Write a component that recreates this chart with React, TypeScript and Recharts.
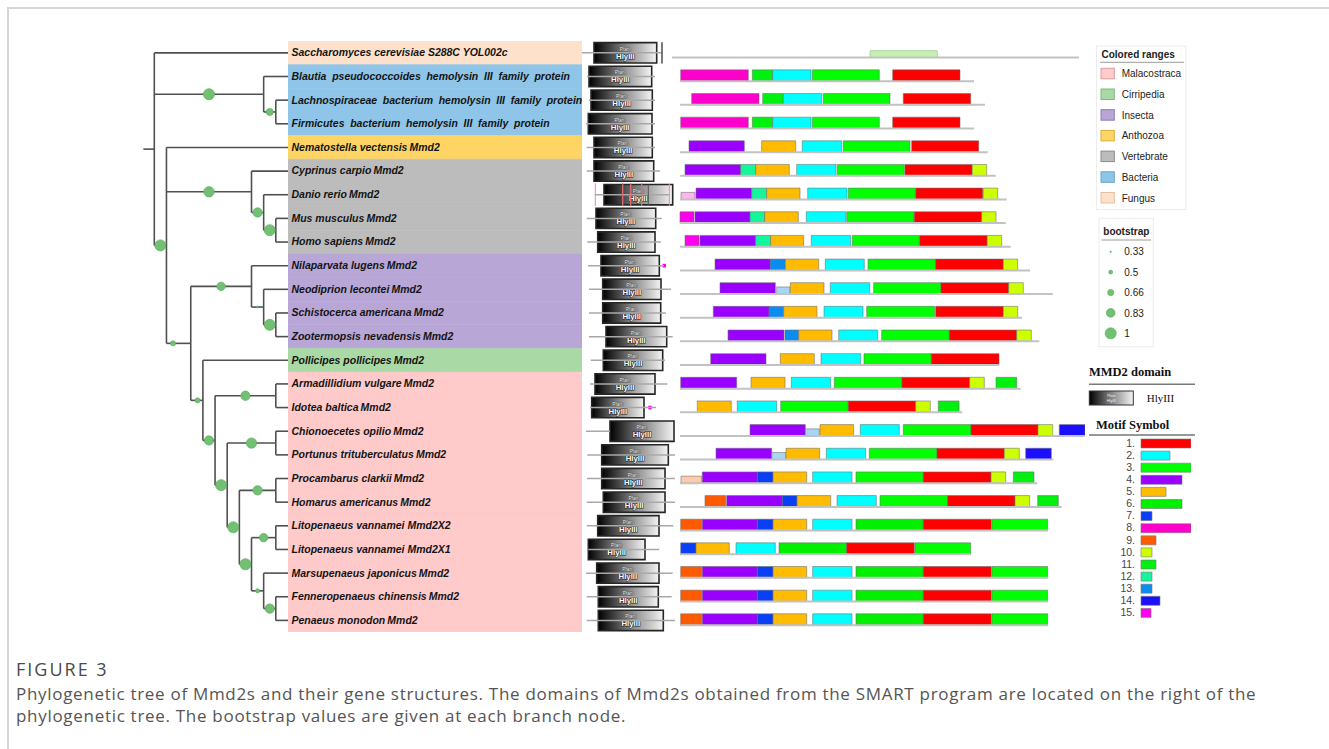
import React from 'react';
import { ComposedChart, BarChart, Bar, Cell, XAxis, YAxis, Scatter, ReferenceLine, ReferenceArea } from 'recharts';

// ---------- layout constants ----------
const ROW_TOP = 41;
const ROW_H = 23.65;
const N_ROWS = 25;
const CH_H = ROW_H * N_ROWS;
const Y_DOMAIN: [number, number] = [-0.5, N_ROWS - 0.5];
const M0 = { top: 0, right: 0, bottom: 0, left: 0 };

// ---------- data ----------
const speciesLabels = [
  'Saccharomyces cerevisiae S288C YOL002c',
  'Blautia pseudococcoides hemolysin III family protein',
  'Lachnospiraceae bacterium hemolysin III family protein',
  'Firmicutes bacterium hemolysin III family protein',
  'Nematostella vectensis\u2009Mmd2',
  'Cyprinus carpio\u2009Mmd2',
  'Danio rerio\u2009Mmd2',
  'Mus musculus\u2009Mmd2',
  'Homo sapiens\u2009Mmd2',
  'Nilaparvata lugens\u2009Mmd2',
  'Neodiprion lecontei\u2009Mmd2',
  'Schistocerca americana\u2009Mmd2',
  'Zootermopsis nevadensis\u2009Mmd2',
  'Pollicipes pollicipes\u2009Mmd2',
  'Armadillidium vulgare\u2009Mmd2',
  'Idotea baltica\u2009Mmd2',
  'Chionoecetes opilio\u2009Mmd2',
  'Portunus trituberculatus\u2009Mmd2',
  'Procambarus clarkii\u2009Mmd2',
  'Homarus americanus\u2009Mmd2',
  'Litopenaeus vannamei Mmd2X2',
  'Litopenaeus vannamei Mmd2X1',
  'Marsupenaeus japonicus\u2009Mmd2',
  'Fenneropenaeus chinensis\u2009Mmd2',
  'Penaeus monodon\u2009Mmd2',
];
const speciesGroup = [6, 5, 5, 5, 3, 4, 4, 4, 4, 2, 2, 2, 2, 1, 0, 0, 0, 0, 0, 0, 0, 0, 0, 0, 0];
const groupNames = ['Malacostraca', 'Cirripedia', 'Insecta', 'Anthozoa', 'Vertebrate', 'Bacteria', 'Fungus'];
const groupFill = ['#ffcaca', '#a9d9a5', '#b8a6d7', '#fed565', '#bcbcbc', '#8ec5e8', '#fde1cb'];
const groupEdge = ['#dc9c9c', '#7dbb79', '#8f7cbb', '#d9ad3e', '#8a8a8a', '#68a4cb', '#e3c0a4'];

// tree: [id, depth level, children (row index or node id), bootstrap, circle position along branch]
const treeNodes: [string, number, (string | number)[], number, number][] = [
  ['root', 0, [0, 'bac', 'euk'], 0, 0],
  ['bac', 9, [1, 'lf'], 1.0, 0.5],
  ['lf', 10, [2, 3], 0.72, 0.5],
  ['euk', 1, [4, 'vert', 'rest'], 1.0, 0.5],
  ['vert', 8, [5, 'dmh'], 0.95, 0.5],
  ['dmh', 9, [6, 'mh'], 0.88, 0.5],
  ['mh', 10, [7, 8], 1.0, 0.5],
  ['rest', 3, ['ins', 'crus'], 0.58, 0.27],
  ['ins', 8, [9, 'ins2'], 0.82, 0.5],
  ['ins2', 9, [10, 'sz'], 0.36, 0.5],
  ['sz', 10, [11, 12], 1.0, 0.5],
  ['crus', 4, [13, 'mal'], 0.58, 0.56],
  ['mal', 5, ['ai', 'mal2'], 0.88, 0.5],
  ['ai', 10, [14, 15], 0.88, 0.5],
  ['mal2', 6, ['cp', 'mal3'], 1.0, 0.5],
  ['cp', 10, [16, 17], 0.95, 0.5],
  ['mal3', 7, ['ph', 'mal4'], 1.0, 0.5],
  ['ph', 10, [18, 19], 0.88, 0.5],
  ['mal4', 8, ['lv', 'pen'], 1.0, 0.5],
  ['lv', 10, [20, 21], 0.82, 0.5],
  ['pen', 9, [22, 'fp'], 0.52, 0.5],
  ['fp', 10, [23, 24], 0.88, 0.5],
];
const LEAF_LEVEL = 11;
const ROOT_STUB = -0.9;

// HlyIII domain (sequence positions)
const domLineStart = [2, 7, 9, 6, 6.7, 6.7, 15, 6.7, 7.3, 8, 9, 9, 9, 10.7, 10, 10, 6, 7.3, 7, 6.7, 6.7, 8.3, 6, 6.7, 6.7];
const domLineEnd = [82, 75, 75, 75, 75, 80, 89, 81.7, 81, 84, 91, 86, 92.7, 85, 87.3, 76, 30, 95, 95, 95, 93.3, 79.3, 92.7, 91.7, 95];
const domBoxStart = [14, 9, 11, 8.3, 14, 14, 24, 16, 17.7, 21, 22.7, 22.7, 26, 23.3, 15, 11.7, 30, 21.7, 21.7, 23.3, 17.7, 8.3, 16.7, 18.3, 18.3];
const domBoxEnd = [76.7, 71.7, 72.3, 72, 72.3, 73.7, 92.7, 75.7, 75, 79.3, 81, 80.7, 86.7, 82.7, 75, 64, 94, 88.3, 85, 85, 79, 65, 79, 78.3, 83.3];
const domEndBars: [number, number][] = [[0, 82]];
const domRedMarks: [number, number][] = [[6, 15.3], [6, 42.7], [6, 50.7], [6, 61.7], [6, 89.3]];
const domInnerMarks: [number, number][] = [[6, 68.3]];
const domDots: [number, number][] = [[9, 84.3], [15, 70]];

// motifs: [motif, start, end]
const LITO: [string, number, number][] = [['9', 0.7, 21.7], ['4', 22.3, 77.3], ['7', 77.3, 93], ['5', 93, 126.7], ['2', 132.7, 172], ['6', 176, 243.3], ['1', 243.3, 311.3], ['3', 312, 367.7]];
const BAC1: [string, number, number][] = [['8', 0.7, 68.3], ['11', 72.3, 92.7], ['2', 92.7, 131], ['3', 132.3, 199.3], ['1', 212.7, 280]];
const motifRows: [string, number, number][][] = [
  [['lg', 190, 257.3]],
  BAC1,
  [['8', 11.7, 79], ['11', 82.7, 103.3], ['2', 103.3, 141.7], ['3', 143.3, 210], ['1', 223.3, 290.7]],
  BAC1,
  [['4', 9, 64.3], ['5', 81.7, 115.7], ['2', 122.3, 161.7], ['3', 163.3, 230], ['1', 231.7, 298.7]],
  [['4', 5, 60.7], ['12', 60.7, 75.7], ['5', 75.7, 109.3], ['2', 116.7, 156], ['3', 157.3, 224.3], ['1', 225, 292], ['10', 292.3, 306.7]],
  [['lp', 1, 15], ['4', 16, 71.7], ['12', 71.7, 86.7], ['5', 86.7, 120], ['2', 127.7, 167], ['3', 168.3, 235.3], ['1', 235.7, 302.7], ['10', 303.3, 317.7]],
  [['15', 0, 14], ['4', 15, 70], ['12', 70, 84.7], ['5', 84.7, 118.3], ['2', 126.3, 165.7], ['3', 166.7, 234], ['1', 234.3, 301.7], ['10', 301.7, 316]],
  [['15', 5, 19], ['4', 20, 75.7], ['12', 75.7, 90.7], ['5', 90.7, 123.7], ['2', 131.3, 170.7], ['3', 172.3, 239.3], ['1', 239.7, 307], ['10', 307.3, 321.7]],
  [['4', 35, 90.3], ['13', 90.3, 105.3], ['5', 105.3, 138.7], ['2', 145.3, 184.3], ['3', 188, 255.7], ['1', 255.7, 323.3], ['10', 323.3, 337.7]],
  [['4', 40, 95.3], ['lb', 96.7, 110], ['5', 110.3, 144], ['2', 150.3, 189.7], ['3', 193.7, 261], ['1', 261, 328.7], ['10', 328.7, 343.3]],
  [['4', 33.3, 89], ['13', 89, 103.7], ['5', 103.7, 137], ['2', 144, 183], ['3', 186.7, 254.7], ['1', 255.7, 323.3], ['10', 323.3, 337.7]],
  [['4', 48, 104], ['13', 105, 118.7], ['5', 118.7, 152], ['2', 158.7, 197.7], ['3', 201.7, 269.3], ['1', 269.3, 336.7], ['10', 336.7, 351.3]],
  [['4', 30.7, 86], ['5', 100.3, 134.3], ['2', 141, 180.7], ['3', 184, 251.3], ['1', 251.3, 319]],
  [['4', 0.7, 56.7], ['5', 71, 105], ['2', 111.3, 150.7], ['3', 154.3, 222], ['1', 222, 289.7], ['10', 289.7, 304.3], ['11', 316, 336.7]],
  [['5', 17.3, 51.3], ['2', 57.3, 96.7], ['3', 100.7, 168.3], ['1', 168.3, 235.7], ['10', 235.7, 250.3], ['11', 258.3, 279]],
  [['4', 70, 125.3], ['lb', 125.3, 139.3], ['5', 140, 173.7], ['2', 180.3, 219.3], ['3', 223.3, 291], ['1', 291, 358], ['10', 358, 372.7], ['14', 379.3, 405]],
  [['4', 36, 91.7], ['lb', 91.7, 106], ['5', 106, 139.7], ['2', 146.3, 185.7], ['3', 189.3, 257], ['1', 257, 324.3], ['10', 324.3, 339.3], ['14', 345.7, 371.3]],
  [['pe', 1, 21.7], ['4', 22.3, 77.3], ['7', 77.3, 93], ['5', 93, 126.7], ['2', 132.7, 172], ['3', 176, 243.3], ['1', 243.3, 311], ['10', 311, 325.7], ['11', 333.3, 354]],
  [['9', 25, 45.7], ['4', 46.7, 102.3], ['7', 102.3, 117], ['5', 117, 150.7], ['2', 157, 196.3], ['3', 200, 267.7], ['1', 267.7, 335], ['10', 335, 349.7], ['11', 357.7, 378.3]],
  LITO,
  [['7', 0.7, 16], ['5', 16, 49.3], ['2', 56, 95.3], ['6', 99, 166.7], ['1', 166.7, 234.3], ['3', 235, 290.7]],
  LITO,
  LITO,
  LITO,
];
const motifLineStart = [-8, 0, 0, 0, 0, 0, 0, 0, 0, 0, 0, 0, 0, 0, 0, 0, 0, 0, 0, 0, 0, 0, 0, 0, 0];
const motifLineEnd = [399, 294, 305, 294, 307.7, 315.7, 326.7, 325.7, 330.7, 350, 372.7, 342, 359.3, 319, 340.7, 282.3, 405, 373.3, 357.3, 381.7, 367.7, 290.7, 367.7, 367.7, 367.7];

const motifIds = ['1', '2', '3', '4', '5', '6', '7', '8', '9', '10', '11', '12', '13', '14', '15'];
const motifLengths = [50, 29, 50, 41, 25, 41, 11, 50, 15, 11, 15, 11, 11, 19, 10];
const motifColors: Record<string, string> = {
  '1': '#ff0000', '2': '#00ffff', '3': '#00ff00', '4': '#9900ff', '5': '#ffbb00',
  '6': '#00f000', '7': '#0a40f5', '8': '#ff00cc', '9': '#ff5a00', '10': '#ccff00',
  '11': '#00f010', '12': '#14f59c', '13': '#0a8cf0', '14': '#1a10ff', '15': '#ff00ee',
  lg: '#c6f0b2', lp: '#ffb4f0', lb: '#a8d4f8', pe: '#ffcba8',
};

const bootstrapLegend = [0.33, 0.5, 0.66, 0.83, 1];

// ---------- derived ----------
const nodeMap: Record<string, { level: number; kids: (string | number)[]; bs: number; pos: number }> = {};
treeNodes.forEach(([id, level, kids, bs, pos]) => { nodeMap[id] = { level, kids, bs, pos }; });
const yOf = (k: string | number): number => {
  if (typeof k === 'number') return k;
  const n = nodeMap[k];
  return (yOf(n.kids[0]) + yOf(n.kids[n.kids.length - 1])) / 2;
};
const levelOf = (k: string | number) => (typeof k === 'number' ? LEAF_LEVEL : nodeMap[k].level);

type Seg = { x1: number; y1: number; x2: number; y2: number };
const treeSegs: Seg[] = [];
const bootstrapPts: { x: number; y: number; v: number }[] = [];
treeNodes.forEach(([id, level, kids]) => {
  const ys = kids.map(yOf);
  treeSegs.push({ x1: level, y1: Math.min(...ys), x2: level, y2: Math.max(...ys) });
  kids.forEach((k) => {
    const ky = yOf(k);
    treeSegs.push({ x1: level, y1: ky, x2: levelOf(k), y2: ky });
    if (typeof k === 'string') {
      const n = nodeMap[k];
      bootstrapPts.push({ x: level + (n.level - level) * n.pos, y: ky, v: n.bs });
    }
  });
});
const rootY = yOf('root');
treeSegs.push({ x1: ROOT_STUB, y1: rootY, x2: 0, y2: rootY });

const rowPts = speciesLabels.map((_, i) => ({ x: 0, y: i }));
const motifLegend = motifIds.map((id, i) => ({ label: id + '.', len: motifLengths[i], color: motifColors[id] }));

const bsRadius = (v: number) => 0.7 + (v - 0.33) * 7.2;

// ---------- small components ----------
const SpeciesLabel = (props: any) => {
  const vb = props.viewBox || { x: 0, y: 0, width: 0, height: 0 };
  return (
    <text x={vb.x + 3.5} y={vb.y + vb.height / 2 + 3.4} fontSize={10.5} fontWeight={700} fontStyle="italic"
      wordSpacing={props.wide ? 2.8 : 0}
      fontFamily="'Liberation Sans', Arial, sans-serif" fill="#141414">
      {props.name}
    </text>
  );
};

const DomainText = (props: any) => {
  const vb = props.viewBox || { x: 0, y: 0, width: 0, height: 0 };
  const cx = vb.x + vb.width / 2;
  const cy = vb.y + vb.height / 2;
  return (
    <g>
      <text x={cx} y={cy - 2} textAnchor="middle" fontSize={4.8} fill="#ffffff" stroke="#333" strokeWidth={0.6}
        paintOrder="stroke" fontFamily="'Liberation Sans', Arial">Pfam</text>
      <text x={cx} y={cy + 6} textAnchor="middle" fontSize={7.8} fontWeight={700} fill="#ffffff" stroke="#222" strokeWidth={1.1}
        paintOrder="stroke" fontFamily="'Liberation Sans', Arial">HlyIII</text>
    </g>
  );
};

const BsDot = (props: any) => (
  <circle cx={props.cx} cy={props.cy} r={bsRadius(props.payload.v)} fill="#72c173" stroke="#5caa5d" strokeWidth={0.7} />
);
const NoDot = () => <g />;

const chartBox = (left: number, width: number): React.CSSProperties => ({ position: 'absolute', left, top: ROW_TOP, width, height: CH_H });

const captionStyle: React.CSSProperties = {
  position: 'absolute', left: 16, fontFamily: "'Open Sans', sans-serif", fontSize: 17, color: '#555',
  lineHeight: '22px', whiteSpace: 'nowrap', letterSpacing: 0.7,
};

// ---------- main ----------
export default function App() {
  const sansFont = "'Liberation Sans', Arial, sans-serif";
  const serifFont = "'Liberation Serif', 'Times New Roman', serif";
  return (
    <div style={{ position: 'absolute', left: 0, top: 0, width: 1329, height: 749, background: '#fff', overflow: 'hidden' }}>
      <svg width={0} height={0} style={{ position: 'absolute' }}>
        <defs>
          <linearGradient id="hlyGrad" x1="0" x2="1" y1="0" y2="0">
            <stop offset="0%" stopColor="#000" />
            <stop offset="45%" stopColor="#777" />
            <stop offset="100%" stopColor="#f4f4f4" />
          </linearGradient>
        </defs>
      </svg>
      {/* frame */}
      <div style={{ position: 'absolute', left: 7, top: 7, width: 1340, height: 760, borderTop: '2px solid #d6d6d6', borderLeft: '2px solid #d6d6d6' }} />

      {/* tree */}
      <div style={chartBox(129.7, 160.4)}>
        <ComposedChart width={160.4} height={CH_H} margin={M0}>
          <XAxis type="number" dataKey="x" domain={[-2, 11.2]} hide allowDataOverflow />
          <YAxis type="number" dataKey="y" domain={Y_DOMAIN} reversed hide allowDataOverflow />
          {treeSegs.map((s, i) => (
            <ReferenceLine key={i} segment={[{ x: s.x1, y: s.y1 }, { x: s.x2, y: s.y2 }]} stroke="#505050" strokeWidth={1.6} ifOverflow="visible" />
          ))}
          <Scatter data={bootstrapPts} shape={BsDot} isAnimationActive={false} />
        </ComposedChart>
      </div>

      {/* labels with colored ranges */}
      <div style={chartBox(287.7, 294.3)}>
        <ComposedChart width={294.3} height={CH_H} margin={M0}>
          <XAxis type="number" dataKey="x" domain={[0, 1]} hide allowDataOverflow />
          <YAxis type="number" dataKey="y" domain={Y_DOMAIN} reversed hide allowDataOverflow />
          {speciesLabels.map((name, i) => (
            <ReferenceArea key={i} x1={0} x2={1} y1={i - 0.5} y2={i + 0.5} fill={groupFill[speciesGroup[i]]} fillOpacity={1}
              stroke={groupFill[speciesGroup[i]]} strokeWidth={0.6} ifOverflow="visible"
              label={<SpeciesLabel name={name} wide={speciesGroup[i] === 5} />} />
          ))}
          <Scatter data={rowPts} shape={NoDot} isAnimationActive={false} />
        </ComposedChart>
      </div>

      {/* HlyIII domains */}
      <div style={chartBox(578, 102)}>
        <ComposedChart width={102} height={CH_H} margin={M0}>
          <XAxis type="number" dataKey="x" domain={[-2, 100]} hide allowDataOverflow />
          <YAxis type="number" dataKey="y" domain={Y_DOMAIN} reversed hide allowDataOverflow />
          {speciesLabels.map((_, i) => (
            <ReferenceLine key={'l' + i} segment={[{ x: domLineStart[i], y: i }, { x: domLineEnd[i], y: i }]} stroke="#a8a8a8" strokeWidth={1.5} ifOverflow="visible" />
          ))}
          {domRedMarks.map(([r, x], i) => (
            <ReferenceLine key={'r' + i} segment={[{ x, y: r - 0.48 }, { x, y: r + 0.48 }]} stroke="#f08a8a" strokeWidth={1} ifOverflow="visible" />
          ))}
          {speciesLabels.map((_, i) => (
            <ReferenceArea key={'b' + i} x1={domBoxStart[i]} x2={domBoxEnd[i]} y1={i - 0.43} y2={i + 0.43} fill="url(#hlyGrad)" fillOpacity={1}
              stroke="#262626" strokeWidth={1.6} ifOverflow="visible" label={<DomainText />} />
          ))}
          {domInnerMarks.map(([r, x], i) => (
            <ReferenceLine key={'m' + i} segment={[{ x, y: r - 0.43 }, { x, y: r + 0.43 }]} stroke="#555" strokeWidth={1} ifOverflow="visible" />
          ))}
          {domRedMarks.slice(1, 4).map(([r, x], i) => (
            <ReferenceLine key={'r2' + i} segment={[{ x, y: r - 0.48 }, { x, y: r + 0.48 }]} stroke="#e06060" strokeWidth={0.8} ifOverflow="visible" />
          ))}
          {domEndBars.map(([r, x], i) => (
            <ReferenceLine key={'e' + i} segment={[{ x, y: r - 0.45 }, { x, y: r + 0.45 }]} stroke="#333" strokeWidth={1.3} ifOverflow="visible" />
          ))}
          {domDots.map(([r, x], i) => (
            <ReferenceArea key={'d' + i} x1={x - 1.7} x2={x + 1.7} y1={r - 0.08} y2={r + 0.08} fill="#ff00ee" fillOpacity={1} ifOverflow="visible" />
          ))}
          <Scatter data={rowPts} shape={NoDot} isAnimationActive={false} />
        </ComposedChart>
      </div>

      {/* motifs */}
      <div style={chartBox(668, 417)}>
        <ComposedChart width={417} height={CH_H} margin={M0}>
          <XAxis type="number" dataKey="x" domain={[-12, 405]} hide allowDataOverflow />
          <YAxis type="number" dataKey="y" domain={Y_DOMAIN} reversed hide allowDataOverflow />
          {speciesLabels.map((_, i) => (
            <ReferenceLine key={'l' + i} segment={[{ x: motifLineStart[i], y: i + 0.2 }, { x: motifLineEnd[i], y: i + 0.2 }]} stroke="#c2c2c2" strokeWidth={2} ifOverflow="visible" />
          ))}
          {motifRows.map((row, i) =>
            row.map(([m, s, e], j) => {
              const thin = m === 'lg';
              const short = m === 'lp' || m === 'lb' || m === 'pe';
              const top = thin ? i - 0.09 : short ? i - 0.1 : i - 0.28;
              return (
                <ReferenceArea key={i + '-' + j} x1={s} x2={e} y1={top} y2={i + 0.2} fill={motifColors[m]} fillOpacity={1}
                  stroke={thin ? '#7fbf6a' : '#6b6b6b'} strokeOpacity={0.55} strokeWidth={1} ifOverflow="visible" />
              );
            })
          )}
          <Scatter data={rowPts} shape={NoDot} isAnimationActive={false} />
        </ComposedChart>
      </div>

      {/* motif symbol legend */}
      <div style={{ position: 'absolute', left: 1105, top: 437.2, width: 86, height: 181.5 }}>
        <BarChart layout="vertical" width={86} height={181.5} data={motifLegend} margin={M0}>
          <XAxis type="number" domain={[0, 50]} hide />
          <YAxis type="category" dataKey="label" width={36} interval={0} tickLine={false} axisLine={false} tickSize={0} tickMargin={6}
            tick={{ fontSize: 10.5, fill: '#454545', fontFamily: sansFont }} />
          <Bar dataKey="len" barSize={9} isAnimationActive={false} stroke="#777" strokeWidth={0.6}>
            {motifLegend.map((d, i) => <Cell key={i} fill={d.color} />)}
          </Bar>
        </BarChart>
      </div>

      {/* legends overlay */}
      <svg width={1329} height={749} style={{ position: 'absolute', left: 0, top: 0, pointerEvents: 'none' }}>
        {/* Colored ranges */}
        <rect x={1096.5} y={46} width={89.5} height={163.5} fill="none" stroke="#ececec" strokeWidth={1} />
        <text x={1101.5} y={57.5} fontSize={10} fontWeight={700} fill="#222" fontFamily={sansFont}>Colored ranges</text>
        <line x1={1100} x2={1184} y1={62.3} y2={62.3} stroke="#9a9a9a" strokeWidth={1} />
        {groupNames.map((g, i) => (
          <g key={g}>
            <rect x={1101} y={68.3 + i * 20.7} width={13.3} height={10.5} fill={groupFill[i]} stroke={groupEdge[i]} strokeWidth={1} />
            <text x={1121.7} y={77.3 + i * 20.7} fontSize={10} fill="#222" fontFamily={sansFont}>{g}</text>
          </g>
        ))}
        {/* bootstrap */}
        <rect x={1099} y={218.3} width={54.3} height={128.4} fill="none" stroke="#ececec" strokeWidth={1} />
        <text x={1103.3} y={234.5} fontSize={10} fontWeight={700} fill="#222" fontFamily={sansFont}>bootstrap</text>
        <line x1={1101.5} x2={1151} y1={240} y2={240} stroke="#9a9a9a" strokeWidth={1} />
        {bootstrapLegend.map((v, i) => (
          <g key={v}>
            <circle cx={1110.7} cy={251.7 + i * 20.4} r={bsRadius(v)} fill="#72c173" stroke="#5caa5d" strokeWidth={0.7} />
            <text x={1124.3} y={255.3 + i * 20.4} fontSize={10} fill="#222" fontFamily={sansFont}>{String(v)}</text>
          </g>
        ))}
        {/* MMD2 domain */}
        <text x={1089} y={375.5} fontSize={12.5} fontWeight={700} fill="#111" fontFamily={serifFont}>MMD2 domain</text>
        <line x1={1089} x2={1195} y1={384.3} y2={384.3} stroke="#7a7a7a" strokeWidth={1.5} />
        <rect x={1089.3} y={391} width={44} height={14} fill="url(#hlyGrad)" stroke="#333" strokeWidth={1} />
        <text x={1111.3} y={397} textAnchor="middle" fontSize={3.5} fill="#eee" fontFamily={sansFont}>Pfam</text>
        <text x={1111.3} y={401.5} textAnchor="middle" fontSize={4} fill="#eee" fontFamily={sansFont}>HlyIII</text>
        <text x={1146.7} y={402} fontSize={11} fill="#111" fontFamily={serifFont}>HlyIII</text>
        <text x={1096} y={428.5} fontSize={12.5} fontWeight={700} fill="#111" fontFamily={serifFont}>Motif Symbol</text>
        <line x1={1089} x2={1195} y1={435} y2={435} stroke="#333" strokeWidth={1.2} />
      </svg>

      {/* caption */}
      <div style={{ ...captionStyle, top: 658, fontSize: 18, letterSpacing: 2, color: '#4a4a4a' }}>FIGURE 3</div>
      <div style={{ ...captionStyle, top: 683 }}>
        Phylogenetic tree of Mmd2s and their gene structures. The domains of Mmd2s obtained from the SMART program are located on the right of the
      </div>
      <div style={{ ...captionStyle, top: 705 }}>
        phylogenetic tree. The bootstrap values are given at each branch node.
      </div>
    </div>
  );
}
